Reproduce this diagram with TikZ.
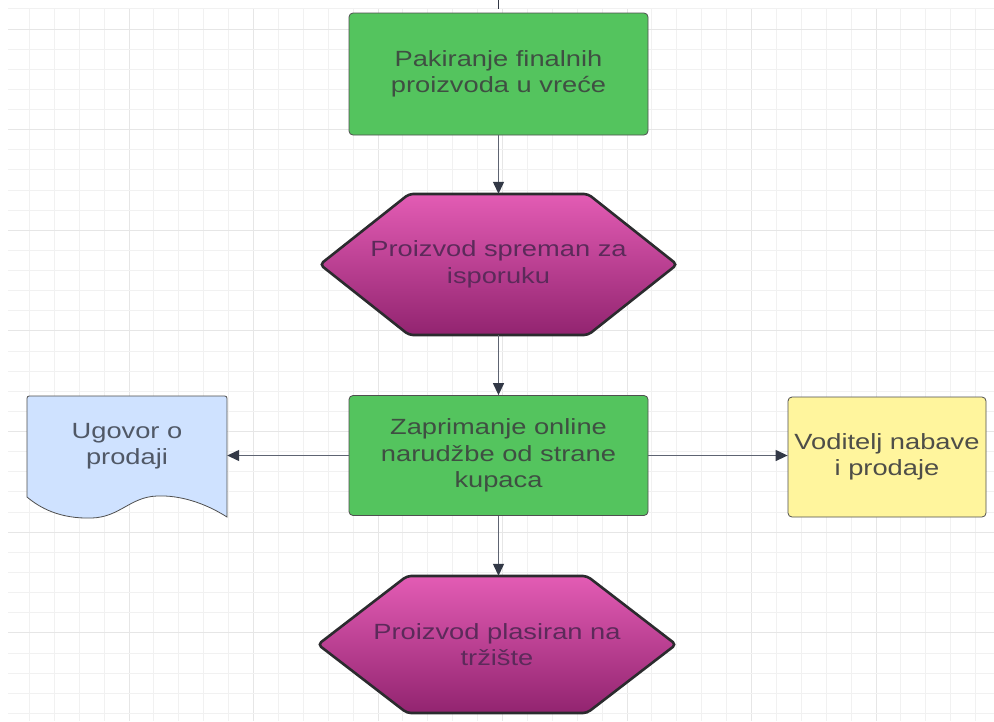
\documentclass[tikz,border=0pt]{standalone}
\usepackage{fontspec}
\setmainfont{Liberation Sans}[FakeStretch=1.24]
\usetikzlibrary{arrows.meta}
\definecolor{gridminor}{HTML}{F1F1F1}
\definecolor{gridmajor}{HTML}{E6E6E6}
\definecolor{boxgreen}{HTML}{54C45E}
\definecolor{boxyellow}{HTML}{FFF59D}
\definecolor{docblue}{HTML}{CFE2FF}
\definecolor{hextop}{HTML}{E35CB4}
\definecolor{hexmid}{HTML}{C83296}
\definecolor{hexbot}{HTML}{922470}
\definecolor{hexline}{HTML}{2B2B2E}
\definecolor{boxline}{HTML}{4F4F4F}
\definecolor{greentext}{HTML}{3F4F42}
\definecolor{hextext}{HTML}{5C2A5A}
\definecolor{doctext}{HTML}{505866}
\definecolor{yellowtext}{HTML}{4E4E48}
\definecolor{conline}{HTML}{5E6472}
\definecolor{contip}{HTML}{323846}
\begin{document}
\begin{tikzpicture}[x=1pt,y=-1pt,
  txt/.style={font=\fontsize{22}{26.5}\selectfont, align=center, inner sep=2pt},
  greenbox/.style={txt, draw=boxline, line width=0.8pt, fill=boxgreen, rounded corners=4pt, text=greentext},
  yellowbox/.style={txt, draw=boxline, line width=0.8pt, fill=boxyellow, rounded corners=4pt, text=yellowtext},
  hexshape/.style={draw=hexline, line width=2.6pt, rounded corners=4pt, top color=hextop, middle color=hexmid, bottom color=hexbot},
  hextxt/.style={txt, text=hextext},
  docshape/.style={draw=boxline, line width=0.8pt, fill=docblue},
  doctxt/.style={txt, text=doctext},
  gmin/.style={draw=gridminor, line width=1pt},
  gmaj/.style={draw=gridmajor, line width=1pt},
  con/.style={draw=conline, line width=1.3pt, -{Triangle[length=12pt,width=11pt,color=contip]}},
  stub/.style={draw=contip, line width=1.5pt}
]
\useasboundingbox (0,0) rectangle (994,721);
\fill[white] (0,0) rectangle (994,721);
% grid
\begin{scope}
\clip (8,8) rectangle (994,721);
\foreach \k in {-4,...,34}{
  \pgfmathsetmacro\xx{129+24.9*\k}
  \pgfmathtruncatemacro\mm{mod(\k+100,5)}
  \ifnum\mm=0 \draw[gmaj] (\xx,0) -- (\xx,721); \else \draw[gmin] (\xx,0) -- (\xx,721); \fi
}
\foreach \k in {-1,...,34}{
  \pgfmathsetmacro\yy{29+20.13*\k}
  \pgfmathtruncatemacro\mm{mod(\k+100,5)}
  \ifnum\mm=0 \draw[gmaj] (0,\yy) -- (994,\yy); \else \draw[gmin] (0,\yy) -- (994,\yy); \fi
}
\end{scope}
% top stub of incoming connector
\coordinate (stubA) at (498.5,0);
\coordinate (stubB) at (498.5,9);
\draw[stub] (stubA) -- (stubB);
% box 1
\node[greenbox, minimum width=299pt, minimum height=122pt] (pak) at (498.5,74) {Pakiranje finalnih\\proizvoda u vreće};
% hexagon 1
\path[hexshape] (320,264.5) -- (409,194) -- (588,194) -- (677,264.5) -- (588,335) -- (409,335) -- cycle;
\node[hextxt, minimum width=357pt, minimum height=141pt] (hexa) at (498.5,264.5) {Proizvod spreman za\\isporuku};
% box 2
\node[greenbox, minimum width=299pt, minimum height=120pt] (zap) at (498.5,455.5) {Zaprimanje online\\narudžbe od strane\\kupaca};
% document
\path[docshape] (27,497) -- (27,401) .. controls (27,396) .. (32,396) -- (222,396) .. controls (227,396) .. (227,401) -- (227,517)
  .. controls (205,503) and (180,495) .. (157,496) .. controls (130,497) and (120,517) .. (92,518) .. controls (60,519) and (40,508) .. (27,497) -- cycle;
\node[doctxt, minimum width=200pt, minimum height=100pt] (ugo) at (127,446) {Ugovor o\\prodaji};
% yellow box
\node[yellowbox, minimum width=198pt, minimum height=120pt] (vod) at (887,457) {Voditelj nabave\\i prodaje};
% hexagon 2
\path[hexshape] (318,644.5) -- (407,576) -- (587,576) -- (676,644.5) -- (587,713) -- (407,713) -- cycle;
\node[hextxt, minimum width=358pt, minimum height=137pt] (hexb) at (497,644.5) {Proizvod plasiran na\\tržište};
% connectors
\draw[con] (pak.south) -- (hexa.north);
\draw[con] (hexa.south) -- (zap.north);
\draw[con] (zap.west) -- (zap.west -| ugo.east);
\draw[con] (zap.east) -- (vod.west |- zap.east);
\draw[con] (zap.south) -- (zap.south |- hexb.north);
\end{tikzpicture}
\end{document}
